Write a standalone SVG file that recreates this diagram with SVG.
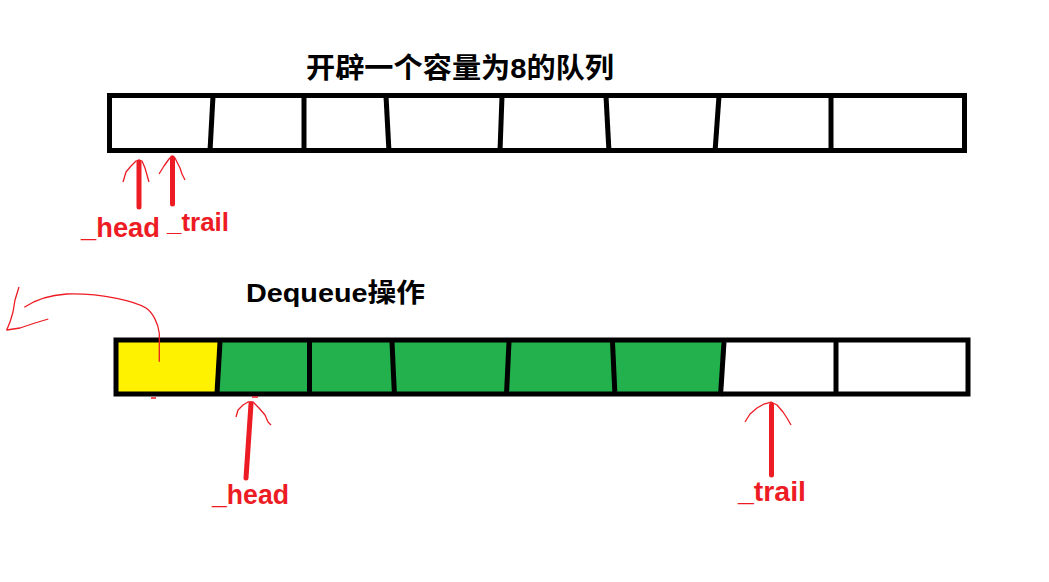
<svg xmlns="http://www.w3.org/2000/svg" width="1049" height="582" viewBox="0 0 1049 582">
<defs>
<style>
.box{fill:none;stroke:#000;stroke-width:5}
.div{stroke:#000;stroke-width:5;fill:none}
.shaft{stroke:#ED1C24;stroke-width:5;stroke-linecap:round;fill:none}
.barb{stroke:#ED1C24;stroke-width:1.3;fill:none;stroke-linejoin:round}
.title{font-family:"Liberation Sans","Noto Sans CJK SC",sans-serif;font-weight:bold;fill:#000}
.lbl{font-family:"Liberation Sans","Noto Sans CJK SC",sans-serif;font-weight:bold;fill:#ED1C24}
</style>
</defs>
<rect width="1049" height="582" fill="#fff"/>

<g id="title-top">
<text class="title" x="306" y="78" font-size="28.5" textLength="308" lengthAdjust="spacingAndGlyphs">开辟一个容量为8的队列</text>
</g>

<g id="queue-top">
<rect class="box" x="109.5" y="95.5" width="855" height="55"/>
<line class="div" x1="213" y1="96" x2="210" y2="151"/>
<line class="div" x1="304" y1="96" x2="304" y2="151"/>
<line class="div" x1="386" y1="96" x2="389" y2="152"/>
<line class="div" x1="502" y1="96" x2="500" y2="151"/>
<line class="div" x1="606" y1="96" x2="609" y2="152"/>
<line class="div" x1="719" y1="96" x2="715" y2="152"/>
<line class="div" x1="831" y1="96" x2="831" y2="151"/>
</g>

<g id="title-bottom">
<text class="title" x="246" y="302" font-size="26" textLength="179" lengthAdjust="spacingAndGlyphs">Dequeue操作</text>
</g>

<g id="queue-bottom">
<rect x="118" y="342" width="101" height="50" fill="#FFF200"/>
<polygon points="220,342 724,342 720.5,392 217,392" fill="#22B14C"/>
<rect class="box" x="116" y="340" width="852" height="54"/>
<line class="div" x1="220" y1="342" x2="217" y2="393"/>
<line class="div" x1="309.5" y1="342" x2="309.5" y2="393"/>
<line class="div" x1="392" y1="342" x2="394.5" y2="396"/>
<line class="div" x1="509" y1="342" x2="506.5" y2="394"/>
<line class="div" x1="612.5" y1="342" x2="615" y2="396"/>
<line class="div" x1="724" y1="342" x2="720.5" y2="396"/>
<line class="div" x1="836" y1="342" x2="836" y2="394"/>
</g>

<g id="connectors">
<line class="shaft" x1="139" y1="162" x2="139" y2="207"/>
<polyline class="barb" points="123,182 126,172 131,166 136,161 139,160 142,161 145,168 147,175 149,182"/>
<line class="shaft" x1="172.5" y1="158" x2="172.5" y2="204"/>
<polyline class="barb" points="159,174 164,166 169,159 172,156 175,158 180,168 182,174 185,180"/>
<line class="shaft" x1="251" y1="404" x2="246" y2="478"/>
<polyline class="barb" points="236,417 238,410 243,405 248,402 253,402 259,408 265,415 268,422 271,425"/>
<line class="shaft" x1="771.5" y1="405" x2="771.5" y2="475"/>
<polyline class="barb" points="745,422 750,414 757,408 764,404 771,402 777,405 783,412 787,418 791,425"/>
<path class="barb" d="M159.3,361.7 L159.3,333.3 C158,322 152,312 146,308 C138,303 125,300 116.7,298.3 C105,296 85,293.5 66.7,294 C50,295 35,300 24.3,307.3"/>
<polyline class="barb" points="19,287 15,300 13,312 10,322 6.7,330 20,328 35,323 48.3,319"/>
<line stroke="#ED1C24" stroke-width="1.5" x1="151" y1="398" x2="156" y2="398"/>
<line stroke="#ED1C24" stroke-width="1.5" x1="252" y1="397" x2="258" y2="397"/>
</g>

<g id="labels">
<text class="lbl" x="81" y="237" font-size="27" textLength="79" lengthAdjust="spacingAndGlyphs">_head</text>
<text class="lbl" x="167" y="231" font-size="26" textLength="62" lengthAdjust="spacingAndGlyphs">_trail</text>
<text class="lbl" x="212" y="504" font-size="27" textLength="77" lengthAdjust="spacingAndGlyphs">_head</text>
<text class="lbl" x="738" y="501" font-size="27" textLength="68" lengthAdjust="spacingAndGlyphs">_trail</text>
</g>
</svg>
